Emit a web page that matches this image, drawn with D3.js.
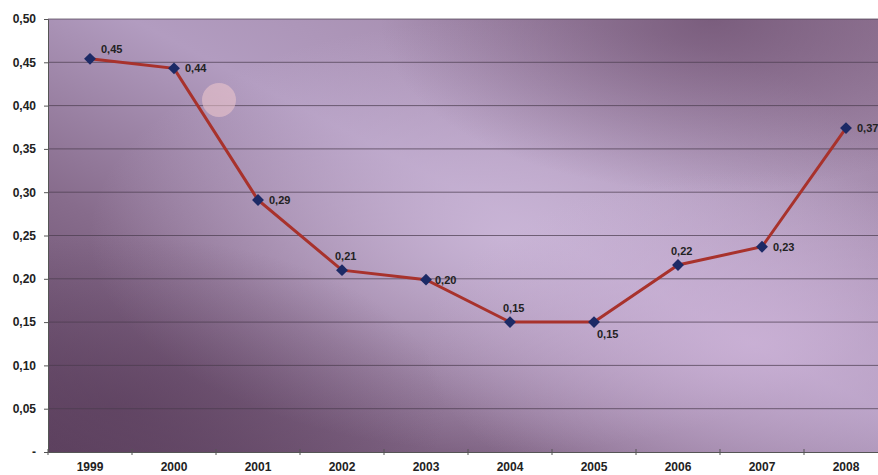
<!DOCTYPE html>
<html><head><meta charset="utf-8">
<script src="https://cdn.jsdelivr.net/npm/d3@7/dist/d3.min.js"></script>
<style>body{margin:0;background:#fff}svg{display:block}text{font-family:Arial,"Liberation Sans",sans-serif;font-weight:bold}</style>
</head><body><svg id="c" width="878" height="475"></svg>
<script>
const years = ["1999","2000","2001","2002","2003","2004","2005","2006","2007","2008"];
const values = [0.454, 0.443, 0.291, 0.210, 0.199, 0.150, 0.150, 0.216, 0.237, 0.374];
const labels = ["0,45","0,44","0,29","0,21","0,20","0,15","0,15","0,22","0,23","0,37"];
const yTicks = [0,0.05,0.10,0.15,0.20,0.25,0.30,0.35,0.40,0.45,0.50];
const yTickLabels = ["-","0,05","0,10","0,15","0,20","0,25","0,30","0,35","0,40","0,45","0,50"];

const svg = d3.select("#c");
const mLeft = 48, mTop = 19, mBottom = 452, bandW = 84;
const x = d3.scaleBand().domain(years).range([mLeft, mLeft + bandW*years.length]);
const y = d3.scaleLinear().domain([0,0.5]).range([mBottom, mTop]);
const W = 878 - mLeft, H = mBottom - mTop;

const defs = svg.append("defs");
const lg = defs.append("linearGradient").attr("id","bg").attr("x1","0").attr("y1","1").attr("x2","1").attr("y2","0");
[["0%","#5e4260"],["30%","#876c8c"],["55%","#b29cc0"],["100%","#9a7f9e"]].forEach(s=>lg.append("stop").attr("offset",s[0]).attr("stop-color",s[1]));
const rg = defs.append("radialGradient").attr("id","glow").attr("cx","0.55").attr("cy","0.5").attr("r","0.5");
rg.append("stop").attr("offset","0%").attr("stop-color","#cdb9da").attr("stop-opacity",0.85);
rg.append("stop").attr("offset","100%").attr("stop-color","#cdb9da").attr("stop-opacity",0);
const rg2 = defs.append("radialGradient").attr("id","glow2").attr("cx","0.85").attr("cy","0.75").attr("r","0.4");
rg2.append("stop").attr("offset","0%").attr("stop-color","#cdb3d8").attr("stop-opacity",0.8);
rg2.append("stop").attr("offset","100%").attr("stop-color","#cdb3d8").attr("stop-opacity",0);
const rg3 = defs.append("radialGradient").attr("id","dark").attr("cx","0.08").attr("cy","0.9").attr("r","0.4");
rg3.append("stop").attr("offset","0%").attr("stop-color","#5a3e5c").attr("stop-opacity",0.6);
rg3.append("stop").attr("offset","100%").attr("stop-color","#5a3e5c").attr("stop-opacity",0);
const rg4 = defs.append("radialGradient").attr("id","topdark").attr("cx","0.8").attr("cy","0.0").attr("r","0.4");
rg4.append("stop").attr("offset","0%").attr("stop-color","#6e5070").attr("stop-opacity",0.75);
rg4.append("stop").attr("offset","100%").attr("stop-color","#6e5070").attr("stop-opacity",0);

const plot = svg.append("g");
["bg","glow","glow2","dark","topdark"].forEach(id =>
  plot.append("rect").attr("x",mLeft).attr("y",mTop).attr("width",W).attr("height",H).attr("fill",`url(#${id})`));

// gridlines
plot.selectAll("line.grid").data(yTicks.filter(d=>d>0)).join("line").attr("class","grid")
  .attr("x1",mLeft).attr("x2",878).attr("y1",d=>y(d)).attr("y2",d=>y(d))
  .attr("stroke","#4a3c4e").attr("stroke-width",1).attr("opacity",0.7);

// pink highlight artifact
plot.append("circle").attr("cx",219).attr("cy",100).attr("r",17).attr("fill","#f0c8cc").attr("opacity",0.55);

// axes
const yAxis = d3.axisLeft(y).tickValues(yTicks).tickFormat((d,i)=>yTickLabels[i]).tickSize(4).tickPadding(8);
const gy = svg.append("g").attr("transform",`translate(${mLeft},0)`).call(yAxis);
gy.select(".domain").attr("stroke","#555");
gy.selectAll(".tick line").attr("stroke","#555");
gy.selectAll("text").attr("font-size",12).attr("fill","#222");

const xAxis = d3.axisBottom(x).tickSize(0).tickPadding(10);
const gx = svg.append("g").attr("transform",`translate(0,${mBottom})`).call(xAxis);
gx.select(".domain").attr("stroke","#555");
gx.selectAll("text").attr("font-size",12).attr("fill","#222");
gx.selectAll("line.bt").data(years).join("line").attr("class","bt")
  .attr("x1",d=>x(d)).attr("x2",d=>x(d)).attr("y1",-3).attr("y2",3).attr("stroke","#555");

// line
const cx = d => x(d) + x.bandwidth()/2;
const line = d3.line().x((d,i)=>cx(years[i])).y(d=>y(d));
svg.append("path").datum(values).attr("d",line).attr("fill","none").attr("stroke","#a8322c").attr("stroke-width",3);
svg.selectAll("path.m").data(values).join("path").attr("class","m")
  .attr("d",d3.symbol(d3.symbolDiamond2,90)).attr("transform",(d,i)=>`translate(${cx(years[i])},${y(d)})`)
  .attr("fill","#1c2a66");

// labels
const offs = [[11,-6],[11,4],[11,4],[-7,-10],[9,4],[-7,-10],[3,16],[-7,-10],[11,4],[11,4]];
svg.selectAll("text.v").data(values).join("text").attr("class","v")
  .attr("x",(d,i)=>cx(years[i])+offs[i][0]).attr("y",(d,i)=>y(d)+offs[i][1])
  .attr("font-size",11).attr("fill","#222").text((d,i)=>labels[i]);
</script></body></html>
